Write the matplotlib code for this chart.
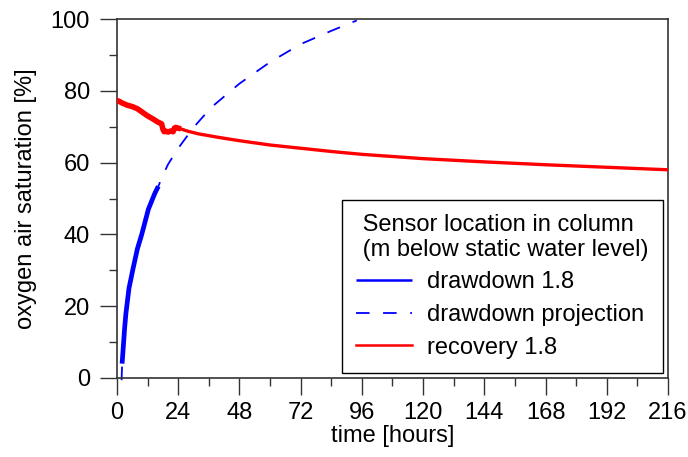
import matplotlib
matplotlib.use("Agg")
import matplotlib.pyplot as plt
from matplotlib.ticker import MultipleLocator

plt.rcParams['font.family'] = ['Liberation Sans', 'DejaVu Sans']

# drawdown 1.8 (measured)
dd_t = [2.0, 2.5, 3, 3.5, 4.7, 6.3, 8, 9.7, 11, 12.3, 14, 15, 16.2]
dd_y = [4.0, 9, 14, 18, 25, 30.5, 36, 40, 43.5, 47, 50, 51.7, 53.4]

# drawdown projection
pj_t = [1.8, 2.0, 2.5, 3, 3.5, 4.7, 6.3, 8, 9.7, 12.3, 14, 16.2, 18, 20, 24,
        30, 37, 48, 60, 72, 84, 94]
pj_y = [-0.6, 4.0, 9, 14, 18, 25, 30.5, 36, 40, 47, 50, 53.4, 56.5, 59.5, 64,
        69.8, 75.4, 82, 88, 93, 96.7, 99.6]

# recovery 1.8
rc_t = [0, 1, 2, 4, 6, 8, 10, 12, 14, 16, 17.5, 18, 18.5, 19, 20, 21, 22, 22.5,
        23, 24, 28, 32, 40, 48, 60, 72, 84, 96, 108, 120, 144, 168, 192, 216]
rc_y = [77.3, 77.0, 76.6, 76.0, 75.6, 75.0, 74.0, 73.0, 72.2, 71.3, 70.8, 69.3,
        68.6, 68.8, 68.5, 68.8, 68.6, 69.6, 69.8, 69.6, 68.7, 68.0, 67.0, 66.1,
        64.9, 64.0, 63.1, 62.3, 61.7, 61.1, 60.2, 59.4, 58.7, 58.0]

x_ticks = [0, 24, 48, 72, 96, 120, 144, 168, 192, 216]
y_ticks = [0, 20, 40, 60, 80, 100]

FS = 17

fig = plt.figure(figsize=(6.88, 4.57), dpi=100)
ax = fig.add_axes([117/688, 1 - 378/457, 551/688, 359/457])

ax.plot(pj_t, pj_y, color='#0000ff', lw=1.3, ls=(0, (7.5, 7.5)),
        label='drawdown projection', clip_on=False, zorder=2)
ax.plot(dd_t, dd_y, color='#0000ff', lw=3.4, label='drawdown 1.8',
        solid_capstyle='butt', zorder=3)
ax.plot(rc_t, rc_y, color='#ff0000', lw=2.4, label='recovery 1.8', zorder=3)
ax.plot(rc_t[:20], rc_y[:20], color='#ff0000', lw=4.0, zorder=3)

ax.set_xlim(0, 216)
ax.set_ylim(0, 100)
ax.set_xticks(x_ticks)
ax.set_yticks(y_ticks)
ax.xaxis.set_minor_locator(MultipleLocator(12))
ax.yaxis.set_minor_locator(MultipleLocator(10))
ax.tick_params(which='major', direction='out', length=12, width=1.0,
               color='#333333', labelsize=FS)
ax.tick_params(axis='y', which='major', pad=7.5)
ax.tick_params(axis='x', which='major', pad=5)
ax.tick_params(which='minor', direction='out', length=6, width=1.0, color='#333333')
for s in ax.spines.values():
    s.set_color('#333333')
    s.set_linewidth(1.2)

ax.set_xlabel('time [hours]', fontsize=FS, labelpad=1)
ax.set_ylabel('oxygen air saturation [%]', fontsize=FS, labelpad=10)

h, l = ax.get_legend_handles_labels()
order = [1, 0, 2]
leg = ax.legend([h[i] for i in order], [l[i] for i in order],
                title=' Sensor location in column\n (m below static water level)',
                loc='lower right', fontsize=FS, title_fontsize=FS,
                frameon=True, fancybox=False, shadow=False, framealpha=1,
                edgecolor='black', borderaxespad=0.22, handlelength=2.35,
                alignment='left', labelspacing=0.45, handletextpad=0.65,
                borderpad=0.6)
leg.get_title().set_linespacing(1.15)
leg.get_frame().set_linewidth(1.0)
for line in leg.get_lines():
    line.set_linewidth(1.8)
leg.get_lines()[1].set_linewidth(1.3)

fig.savefig('out.png', dpi=100)
